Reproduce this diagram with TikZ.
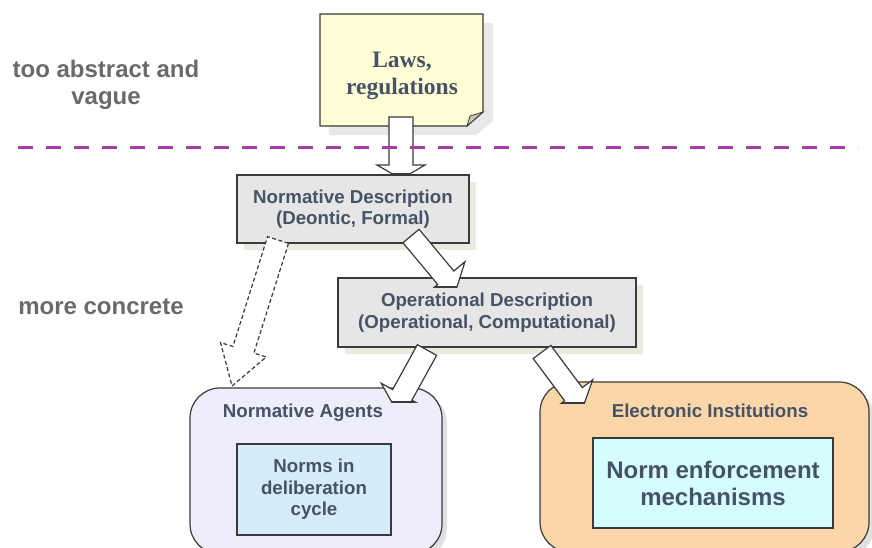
\documentclass[tikz,border=0pt]{standalone}
\usepackage{fontspec}
\setmainfont{Liberation Sans}
\newfontfamily\notefont{Liberation Serif}
\usetikzlibrary{calc,shadows}

\definecolor{inkblue}{HTML}{465266}
\definecolor{greylabel}{HTML}{6A6A6A}
\definecolor{notefill}{HTML}{FFFDD6}
\definecolor{foldfill}{HTML}{C9C8B4}
\definecolor{boxgrey}{HTML}{E6E6E6}
\definecolor{shadowtan}{HTML}{ECE9E1}
\definecolor{lavender}{HTML}{EDEDFC}
\definecolor{paleblue}{HTML}{D5EDFB}
\definecolor{peach}{HTML}{FAD6A9}
\definecolor{palecyan}{HTML}{D6FDFE}
\definecolor{divider}{HTML}{A23FA6}
\definecolor{edge}{HTML}{3A3A3A}

% block arrow corner points: prefix, tail, tip, half shaft, half head, head length
\newcommand\arrowpoints[6]{%
  \coordinate (#1p) at (#3);
  \coordinate (#1n) at ($(#3)!#6pt!(#2)$);
  \coordinate (#1a) at ($(#2)!#4pt!90:(#3)$);
  \coordinate (#1b) at ($(#1n)!#4pt!90:(#3)$);
  \coordinate (#1c) at ($(#1n)!#5pt!90:(#3)$);
  \coordinate (#1d) at ($(#1n)!#5pt!-90:(#3)$);
  \coordinate (#1e) at ($(#1n)!#4pt!-90:(#3)$);
  \coordinate (#1f) at ($(#2)!#4pt!-90:(#3)$);
}
\newcommand\arrowoutline[1]{(#1a) -- (#1b) -- (#1c) -- (#1p) -- (#1d) -- (#1e) -- (#1f) -- cycle}
% block arrow whose head is cut flat by a horizontal line at the given height
\newcommand\cutarrow[2]{%
  \begin{scope}
    \clip (0,0) rectangle (872,#2);
    \filldraw[arrowbody] \arrowoutline{#1};
  \end{scope}
  \begin{scope}
    \clip \arrowoutline{#1};
    \draw[arrowbody] (0,#2) -- (872,#2);
  \end{scope}}

\tikzset{
  boxtext/.style={text=inkblue, font=\bfseries\fontsize{18.7}{21.5}\selectfont, align=center},
  sidelabel/.style={text=greylabel, font=\bfseries\fontsize{24}{27.5}\selectfont, align=center},
  greybox/.style={draw=edge, line width=1.2pt, fill=boxgrey, inner sep=0pt, boxtext,
    drop shadow={shadow xshift=7pt, shadow yshift=-7pt, fill=shadowtan, opacity=1}},
  roundbox/.style={draw=edge, line width=1.2pt, rounded corners=30pt, inner sep=0pt,
    drop shadow={shadow xshift=5pt, shadow yshift=-5pt, fill=black!12, opacity=1}},
  innerbox/.style={draw=edge, line width=1.2pt, inner sep=0pt, boxtext},
  arrowbody/.style={draw=edge, fill=white, line width=1.2pt, line join=miter},
  dashedarrow/.style={draw=edge, fill=white, line width=1.2pt, dash pattern=on 4pt off 2.5pt},
  dividerline/.style={draw=divider, line width=3pt, dash pattern=on 15pt off 13pt},
}

\begin{document}
\begin{tikzpicture}[x=1pt, y=-1pt]
  \useasboundingbox (0,0) rectangle (872,547);

  % side labels
  \node[sidelabel] (abstract) at (106,85) {too abstract and\\vague};
  \node[sidelabel] (concrete) at (101,307) {more concrete};

  % sticky note with folded corner
  \fill[black!9] (329,23) -- (493,23) -- (493,121) -- (476,135) -- (329,135) -- cycle;
  \filldraw[draw=edge, line width=1.2pt, fill=notefill]
    (320,14) -- (483,14) -- (483,112) -- (467,126) -- (320,126) -- cycle;
  \filldraw[draw=edge, line width=0.8pt, fill=foldfill] (483,112) -- (467,126) -- (470,116) -- cycle;
  \node[text=inkblue, font=\notefont\bfseries\fontsize{23.5}{27}\selectfont, align=center]
    (laws) at (402,76) {Laws,\\regulations};

  % arrow from the note down to the normative description
  \coordinate (a1tail) at (401,117);
  \coordinate (a1tip) at (401,179);
  \arrowpoints{a1}{a1tail}{a1tip}{12}{24}{14}
  \cutarrow{a1}{174}

  % dividing line between abstract and concrete levels
  \coordinate (divL) at (18,147);
  \coordinate (divR) at (858,147);
  \draw[dividerline] (divL) -- (divR);

  % description boxes
  \node[greybox, minimum width=232pt, minimum height=68pt] (normdesc) at (353,209)
    {Normative Description\\(Deontic, Formal)};
  \node[greybox, minimum width=298pt, minimum height=69pt] (opdesc) at (487,312.5)
    {Operational Description\\(Operational, Computational)};

  % optional path straight to the agents
  \coordinate (a5tail) at (278,240);
  \coordinate (a5tip) at (232,386);
  \arrowpoints{a5}{a5tail}{a5tip}{11}{24}{38}
  \path[dashedarrow] \arrowoutline{a5};

  % normative -> operational
  \coordinate (a2tail) at (411,236);
  \coordinate (a2tip) at (456,290);
  \arrowpoints{a2}{a2tail}{a2tip}{10.5}{25}{16}
  \cutarrow{a2}{287}

  % target containers
  \node[roundbox, fill=lavender, minimum width=252pt, minimum height=166pt] (agents) at (316,471) {};
  \node[roundbox, fill=peach, minimum width=329pt, minimum height=170pt] (inst) at (704.5,467) {};

  \node[boxtext] (agentstitle) at (303,413) {Normative Agents};
  \node[boxtext] (insttitle) at (710,411) {Electronic Institutions};

  \node[innerbox, fill=paleblue, minimum width=154pt, minimum height=91pt] (norms) at (314,489.5)
    {Norms in\\deliberation\\cycle};
  \node[innerbox, fill=palecyan, minimum width=240pt, minimum height=90pt,
        font=\bfseries\fontsize{24}{27}\selectfont] (enforce) at (713,483)
    {Norm enforcement\\mechanisms};

  % operational -> agents and institutions
  \coordinate (a3tail) at (427,350);
  \coordinate (a3tip) at (395,408);
  \arrowpoints{a3}{a3tail}{a3tip}{11}{24}{15}
  \cutarrow{a3}{402}

  \coordinate (a4tail) at (542,352);
  \coordinate (a4tip) at (583,407);
  \arrowpoints{a4}{a4tail}{a4tip}{11}{24}{16}
  \cutarrow{a4}{403}
\end{tikzpicture}
\end{document}
